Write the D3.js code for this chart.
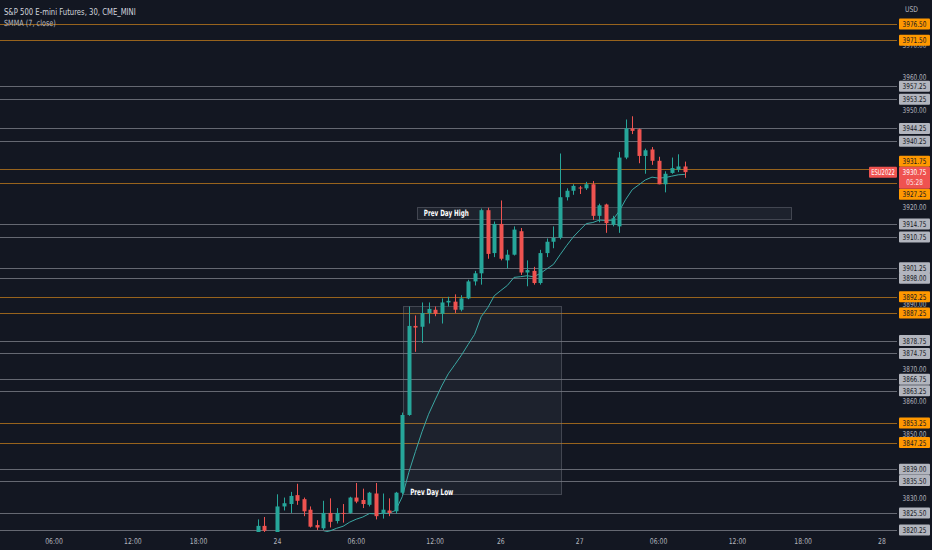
<!doctype html>
<html>
<head>
    <meta charset="UTF-8">
    <title>ESU2022 30m</title>
    <script src="https://cdn.jsdelivr.net/npm/d3@7"></script>
    <style>
        body {
            margin: 0;
            background: #131722;
        }
        text {
            font-family: "Liberation Sans Narrow", "DejaVu Sans Condensed", "Roboto", sans-serif;
        }
        .axis-txt { fill: #b2b5be; font-size: 8px; }
        .lvl-txt { fill: #131722; font-size: 8px; text-anchor: middle; }
        .box-txt { fill: #ffffff; font-size: 8.5px; font-weight: 700; }
    </style>
</head>
<body>

<script>
    // bar index 0 = 06:00 on the 23rd, 30 minute bars, session gaps removed
    var barIdx = [31, 32, 34, 35, 36, 37, 38, 39, 40, 41, 42, 43, 44, 45, 46, 47, 48, 49, 50, 51, 52,
        53, 54, 55, 56, 57, 58, 59, 60, 61, 62, 63, 64, 65, 66, 67, 68, 69, 70, 71, 72, 73, 74, 75,
        76, 77, 78, 79, 80, 81, 82, 83, 84, 85, 86, 87, 88, 89, 90, 91, 92, 93, 94, 95, 96];

    var opens = [3819.0, 3821.5, 3818.0, 3827.5, 3828.25, 3831.0, 3829.75, 3826.5, 3821.75, 3820.75,
        3825.5, 3823.0, 3825.5, 3825.5, 3830.25, 3829.5, 3828.0, 3831.5, 3825.5, 3826.25, 3826.0,
        3831.75, 3855.75, 3883.25, 3883.0, 3887.25, 3888.25, 3887.0, 3890.5, 3890.75, 3888.25, 3891.75,
        3897.0, 3899.5, 3919.0, 3905.75, 3914.75, 3903.5, 3905.25, 3912.5, 3899.75, 3900.25, 3896.5,
        3905.75, 3909.25, 3910.5, 3923.0, 3925.0, 3926.0, 3925.75, 3927.0, 3917.25, 3920.75, 3914.5,
        3914.0, 3935.25, 3944.25, 3944.0, 3935.75, 3937.75, 3934.25, 3927.0, 3930.5, 3931.5, 3932.5];

    var highs = [3823.5, 3824.25, 3831.25, 3830.25, 3832.0, 3834.5, 3830.25, 3827.5, 3823.25, 3829.25,
        3830.0, 3827.0, 3828.25, 3830.5, 3834.75, 3833.0, 3832.0, 3834.75, 3831.5, 3830.0, 3832.0,
        3856.5, 3889.25, 3886.5, 3890.5, 3890.5, 3889.25, 3891.75, 3892.25, 3893.0, 3892.75, 3897.5,
        3900.25, 3919.5, 3919.75, 3915.5, 3922.0, 3906.75, 3914.0, 3913.5, 3903.5, 3901.5, 3906.75,
        3910.25, 3914.0, 3936.5, 3925.75, 3927.0, 3926.5, 3927.75, 3928.0, 3921.0, 3921.0, 3917.25,
        3937.0, 3947.0, 3948.0, 3944.25, 3938.0, 3938.5, 3935.5, 3931.0, 3935.25, 3936.25, 3934.0];

    var lows = [3818.5, 3819.0, 3817.5, 3826.25, 3825.5, 3828.0, 3824.5, 3821.0, 3820.25, 3820.25,
        3821.0, 3822.25, 3822.5, 3825.25, 3828.5, 3827.0, 3827.5, 3823.5, 3823.75, 3824.5, 3825.25,
        3831.25, 3855.5, 3875.25, 3878.0, 3884.0, 3886.25, 3884.0, 3889.25, 3887.25, 3887.75, 3891.5,
        3895.75, 3896.0, 3904.0, 3904.5, 3903.5, 3901.0, 3905.0, 3899.0, 3895.5, 3896.0, 3896.0,
        3904.5, 3907.25, 3910.0, 3922.0, 3923.75, 3924.0, 3925.25, 3916.0, 3915.25, 3912.0, 3914.0,
        3912.0, 3934.75, 3942.5, 3933.5, 3930.25, 3933.0, 3927.0, 3924.5, 3930.25, 3930.75, 3929.0];

    var closes = [3821.5, 3820.0, 3827.5, 3828.5, 3830.75, 3829.25, 3826.0, 3821.25, 3821.0, 3825.5,
        3822.75, 3825.5, 3825.25, 3830.25, 3829.0, 3828.25, 3831.75, 3824.5, 3826.5, 3825.5, 3831.75,
        3855.75, 3883.25, 3882.75, 3887.25, 3888.5, 3887.0, 3890.5, 3891.0, 3888.25, 3891.75, 3897.0,
        3899.5, 3919.0, 3905.5, 3914.75, 3904.0, 3905.25, 3913.0, 3899.75, 3900.5, 3896.5, 3905.75,
        3909.25, 3910.5, 3923.0, 3925.0, 3926.5, 3925.75, 3927.0, 3917.25, 3920.5, 3915.0, 3916.5,
        3935.25, 3944.25, 3943.5, 3935.75, 3937.5, 3934.25, 3927.0, 3930.25, 3932.0, 3932.5, 3930.75];

    // SMMA (7, close), from bar 41 on
    var smmaStart = 41;
    var smmaVals = [3819.50, 3819.96, 3820.75, 3821.39, 3822.66, 3823.57, 3824.24, 3825.31, 3825.20,
        3825.39, 3825.40, 3826.31, 3830.52, 3838.05, 3844.44, 3850.56, 3855.98, 3860.41, 3864.71,
        3868.47, 3871.30, 3874.22, 3877.47, 3880.62, 3886.10, 3888.87, 3892.57, 3894.20, 3895.78,
        3898.24, 3898.46, 3898.75, 3898.43, 3899.48, 3900.88, 3902.25, 3905.21, 3908.04, 3910.68,
        3912.83, 3914.85, 3915.19, 3915.95, 3915.81, 3915.91, 3918.67, 3922.32, 3925.35, 3926.84,
        3928.36, 3929.20, 3928.89, 3929.08, 3929.50, 3929.93, 3930.05];

    var tickBars = [0, 12, 22, 34, 46, 58, 68, 80, 92, 104, 114, 126];
    var tickLabels = ["06:00", "12:00", "18:00", "24", "06:00", "12:00", "26", "27", "06:00", "12:00", "18:00", "28"];

    var priceTicks = [3820, 3830, 3840, 3850, 3860, 3870, 3880, 3890, 3900, 3910, 3920, 3930, 3940, 3950, 3960, 3970];

    var orangeLevels = [3976.50, 3971.50, 3931.75, 3927.25, 3892.25, 3887.25, 3853.25, 3847.25];
    var greyLevels = [3957.25, 3953.25, 3944.25, 3940.25, 3914.75, 3910.75, 3901.25, 3898.00,
        3878.75, 3874.75, 3866.75, 3863.25, 3839.00, 3835.50, 3825.50, 3820.25];

    var lastPrice = 3930.75, countdown = "05:28", symbol = "ESU2022";

    // rectangles drawn on the chart: [bar from, bar to, price top, price bottom]
    var pdhBox = [55.2, 112.1, 3920.1, 3916.5];
    var pdlBox = [53.06, 77.16, 3889.5, 3831.5];

    var width = 932, height = 550,
        plotR = 897, plotB = 532;

    var up = "#26a69a", down = "#ef5350";
    var squeeze = 0.8;   // the installed fonts run wider than the chart's own

    var svg = d3.select("body")
        .append("svg")
        .attr("width", width)
        .attr("height", height)
        .style("display", "block");

    svg.append("rect")
        .attr("width", width)
        .attr("height", height)
        .attr("fill", "#131722");

    var x = d3.scaleLinear()
        .domain([0, 126])
        .range([54, 882]);

    var y = d3.scaleLinear()
        .domain([3819.61, 3983.91])
        .range([plotB, 0]);

    var at = function (px, py, sx) {
        return "translate(" + px + "," + py + ") scale(" + (sx || squeeze) + ",1)";
    };

    svg.append("clipPath")
        .attr("id", "plot")
        .append("rect")
        .attr("width", plotR)
        .attr("height", plotB);

    var plot = svg.append("g").attr("clip-path", "url(#plot)");

    var levels = orangeLevels.map(function (d) { return { p: d, c: "orange" }; })
        .concat(greyLevels.map(function (d) { return { p: d, c: "grey" }; }));

    // level labels get pushed away from the last price label
    var lastY = y(lastPrice);
    var lastTop = lastY - 5.5, lastBot = lastY + 16.5;

    levels.forEach(function (d) {
        var cy = y(d.p);
        if (cy + 5.5 > lastTop && cy - 5.5 < lastBot) {
            cy = d.p > lastPrice ? lastTop - 5.5 : lastBot + 5.5;
        }
        d.ly = cy;
    });

    // price axis ticks, the ones sitting right under a label box are left out
    var shownTicks = priceTicks.filter(function (t) {
        var ty = y(t);
        if (ty > lastTop - 2 && ty < lastBot) { return false; }
        return !levels.some(function (d) { return Math.abs(d.ly - ty) < 4.5; });
    });

    svg.selectAll(".ptick")
        .data(shownTicks)
        .enter()
        .append("text")
        .attr("class", "axis-txt ptick")
        .attr("transform", function (d) { return at(914.5, y(d) + 3); })
        .style("text-anchor", "middle")
        .text(function (d) { return d.toFixed(2); });

    plot.selectAll(".lvl")
        .data(levels)
        .enter()
        .append("line")
        .attr("x1", 0)
        .attr("x2", plotR)
        .attr("y1", function (d) { return Math.round(y(d.p)) + 0.5; })
        .attr("y2", function (d) { return Math.round(y(d.p)) + 0.5; })
        .style("stroke", function (d) { return d.c === "orange" ? "#f0961a" : "#a9acb5"; })
        .style("stroke-opacity", function (d) { return d.c === "orange" ? 0.6 : 0.55; })
        .style("stroke-width", 1);

    // prev day boxes
    [pdhBox, pdlBox].forEach(function (b) {
        plot.append("rect")
            .attr("x", Math.round(x(b[0])) + 0.5)
            .attr("y", Math.round(y(b[2])) + 0.5)
            .attr("width", Math.round(x(b[1]) - x(b[0])))
            .attr("height", Math.round(y(b[3]) - y(b[2])))
            .style("fill", "rgba(120,123,134,0.11)")
            .style("stroke", "rgba(120,123,134,0.45)")
            .style("stroke-width", 1);
    });

    // smma
    var smma = smmaVals.map(function (v, i) { return [smmaStart + i, v]; });
    plot.append("path")
        .datum(smma)
        .attr("d", d3.line()
            .x(function (d) { return x(d[0]); })
            .y(function (d) { return y(d[1]); }))
        .style("fill", "none")
        .style("stroke", "#3ba7a3")
        .style("stroke-width", 1);

    // candles
    var candles = barIdx.map(function (b, i) {
        return { b: b, o: opens[i], h: highs[i], l: lows[i], c: closes[i] };
    });

    var cg = plot.selectAll(".candle")
        .data(candles)
        .enter()
        .append("g")
        .attr("class", "candle");

    cg.append("line")
        .attr("x1", function (d) { return Math.round(x(d.b)) + 0.5; })
        .attr("x2", function (d) { return Math.round(x(d.b)) + 0.5; })
        .attr("y1", function (d) { return y(d.h); })
        .attr("y2", function (d) { return y(d.l); })
        .style("stroke", function (d) { return d.c >= d.o ? up : down; })
        .style("stroke-width", 1);

    cg.append("rect")
        .attr("x", function (d) { return Math.round(x(d.b)) - 1.5; })
        .attr("y", function (d) { return y(Math.max(d.o, d.c)); })
        .attr("width", 4)
        .attr("height", function (d) { return Math.max(1, Math.abs(y(d.o) - y(d.c))); })
        .style("fill", function (d) { return d.c >= d.o ? up : down; });

    // box labels
    svg.append("text")
        .attr("class", "box-txt")
        .attr("transform", at(x(pdhBox[0]) + 7, y(pdhBox[2]) + 9.5, 0.74))
        .text("Prev Day High");

    svg.append("text")
        .attr("class", "box-txt")
        .attr("transform", at(x(pdlBox[0]) + 7.5, y(pdlBox[3]) + 1, 0.74))
        .text("Prev Day Low");

    var lb = svg.selectAll(".lvl-lab")
        .data(levels)
        .enter()
        .append("g")
        .attr("class", "lvl-lab");

    lb.append("rect")
        .attr("x", 899)
        .attr("y", function (d) { return d.ly - 5.5; })
        .attr("width", 31)
        .attr("height", 11)
        .attr("rx", 1)
        .style("fill", function (d) { return d.c === "orange" ? "#ff9800" : "#b2b5be"; });

    lb.append("text")
        .attr("class", "lvl-txt")
        .attr("transform", function (d) { return at(914.5, d.ly + 3); })
        .text(function (d) { return d.p.toFixed(2); });

    // last price
    svg.append("rect")
        .attr("x", 899).attr("y", lastTop)
        .attr("width", 31).attr("height", lastBot - lastTop)
        .attr("rx", 1)
        .style("fill", down);
    svg.append("text")
        .attr("class", "lvl-txt")
        .attr("transform", at(914.5, lastY + 3))
        .style("fill", "#fff")
        .text(lastPrice.toFixed(2));
    svg.append("text")
        .attr("class", "lvl-txt")
        .attr("transform", at(914.5, lastY + 13))
        .style("fill", "#fce4e4")
        .text(countdown);

    svg.append("rect")
        .attr("x", 869).attr("y", lastTop)
        .attr("width", 28).attr("height", 11)
        .attr("rx", 1)
        .style("fill", down);
    svg.append("text")
        .attr("class", "lvl-txt")
        .attr("transform", at(883, lastY + 3, 0.72))
        .style("fill", "#fff")
        .text(symbol);

    // time axis
    svg.selectAll(".ttick")
        .data(tickBars)
        .enter()
        .append("text")
        .attr("class", "axis-txt ttick")
        .attr("transform", function (d) { return at(x(d), 543.5, 0.85); })
        .style("text-anchor", "middle")
        .text(function (d, i) { return tickLabels[i]; });

    svg.append("text")
        .attr("class", "axis-txt")
        .attr("transform", at(905, 12, 0.85))
        .text("USD");

    // legend
    svg.append("text")
        .attr("transform", at(4, 14.5, 0.9))
        .style("font-size", "8.5px")
        .style("fill", "#d1d4dc")
        .text("S&P 500 E-mini Futures, 30, CME_MINI");
    svg.append("text")
        .attr("transform", at(4, 26, 0.85))
        .style("font-size", "8.5px")
        .style("fill", "#b2b5be")
        .text("SMMA (7, close)");
</script>

</body>
</html>
